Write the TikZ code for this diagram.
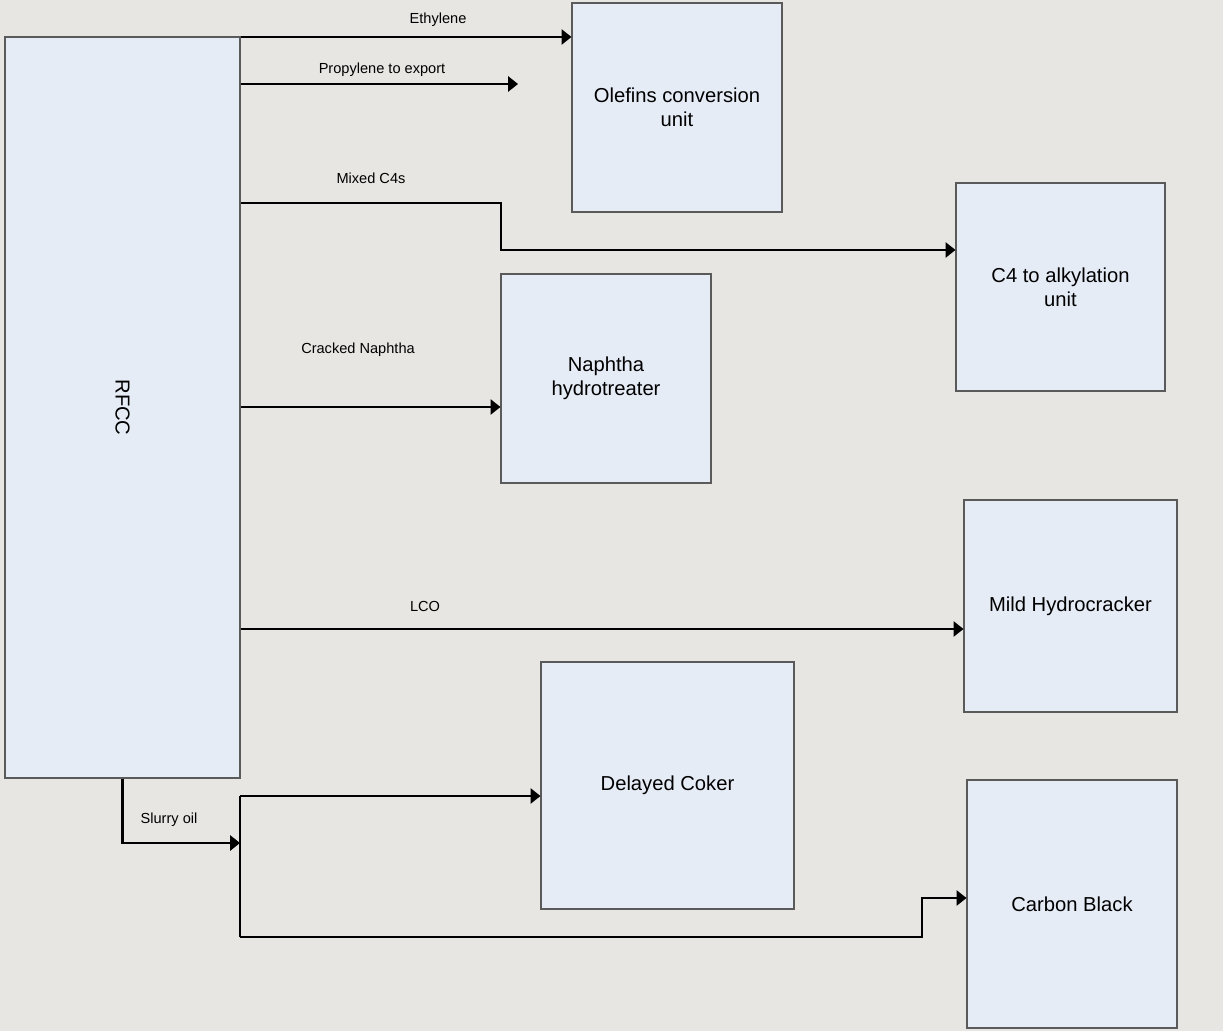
\documentclass[tikz,border=0pt]{standalone}
\usepackage{fontspec}
\setmainfont{Liberation Sans}
\usetikzlibrary{arrows.meta, positioning, calc}
\definecolor{bggray}{RGB}{232,230,227}
\definecolor{unitblue}{RGB}{230,236,246}
\definecolor{unitedge}{RGB}{90,90,90}
\tikzset{every node/.append style={align=center}}
\tikzset{
  unit/.style={rectangle, draw=unitedge, fill=unitblue, line width=0.6pt,
    inner sep=0pt, font=\fontsize{11.5}{13.5}\selectfont},
  lbl/.style={font=\fontsize{8.3}{10}\selectfont, inner sep=1pt},
  flow/.style={-{Triangle[length=5.6pt, width=8.6pt]}, line width=1.15pt, black},
  pipe/.style={line width=1.15pt, black}
}
\begin{document}
\begin{tikzpicture}[x=0.2mm, y=-0.2mm]
  \fill[bggray] (0,0) rectangle (1223,1031);
  \useasboundingbox (0,0) rectangle (1223,1031);
  % process units
  \node[unit, minimum width=47mm, minimum height=148.2mm] (rfcc) at (122.5,407.5) {\rotatebox{-90}{RFCC}};
  \node[unit, minimum width=42mm, minimum height=41.8mm] (olef) at (677,107.5) {Olefins conversion\\unit};
  \node[unit, minimum width=41.8mm, minimum height=41.6mm] (alky) at (1060.5,287) {C4 to alkylation\\unit};
  \node[unit, minimum width=42mm, minimum height=41.8mm] (nht) at (606,378.5) {Naphtha\\hydrotreater};
  \node[unit, minimum width=42.6mm, minimum height=42.4mm] (mhc) at (1070.5,606) {Mild Hydrocracker};
  \node[unit, minimum width=50.6mm, minimum height=49.4mm] (coker) at (667.5,785.5) {Delayed Coker};
  \node[unit, minimum width=42mm, minimum height=49.6mm] (cblack) at (1072,904) {Carbon Black};
  % helper points
  \coordinate (propend) at (518,84);
  \coordinate (slurry) at (240,843);
  \coordinate (splittop) at (240,796);
  \coordinate (splitbot) at (240,937);
  % streams
  \draw[flow] (rfcc.east |- 0,37) -- (olef.west |- 0,37);
  \draw[flow] (rfcc.east |- propend) -- (propend);
  \draw[flow] (rfcc.east |- 0,203) -- (501,203) -- (501,250) -- (alky.west |- 0,250);
  \draw[flow] (rfcc.east |- 0,407) -- (nht.west |- 0,407);
  \draw[flow] (rfcc.east |- 0,629) -- (mhc.west |- 0,629);
  \draw[flow] (rfcc.south) -- (rfcc.south |- slurry) -- (slurry);
  \draw[pipe] (splittop) -- (splitbot);
  \draw[flow] (splittop) -- (coker.west |- splittop);
  \draw[flow] (splitbot) -- (922,937) -- (922,898) -- (cblack.west |- 0,898);
  % stream labels
  \node[lbl] (lbleth) at (438,20) {Ethylene};
  \node[lbl] (lblprop) at (382,70) {Propylene to export};
  \node[lbl] (lblc4) at (371,178) {Mixed C4s};
  \node[lbl] (lblnap) at (358,350) {Cracked Naphtha};
  \node[lbl] (lbllco) at (425,606) {LCO};
  \node[lbl] (lblslurry) at (169,820) {Slurry oil};
\end{tikzpicture}
\end{document}
